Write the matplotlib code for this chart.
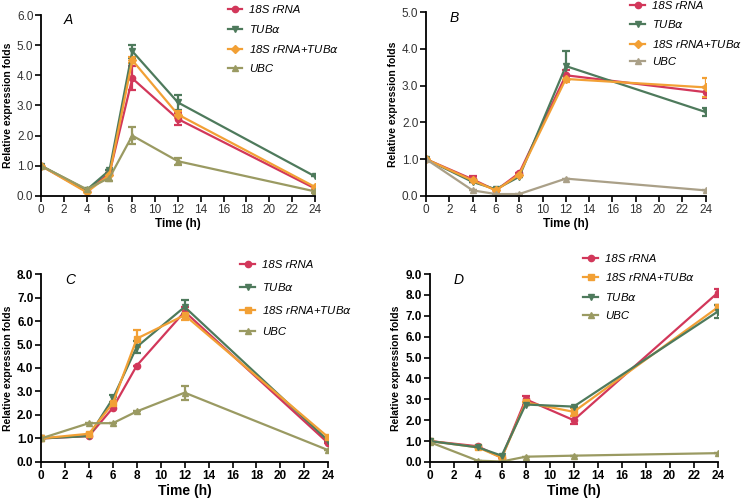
import matplotlib
matplotlib.use("Agg")
import matplotlib.pyplot as plt
from matplotlib.lines import Line2D
import numpy as np

plt.rcParams['font.family'] = ['Liberation Sans', 'DejaVu Sans']

horas = [0, 4, 6, 8, 12, 24]

# panel A
a_18s = [1.0, 0.15, 0.75, 3.9, 2.55, 0.25]
a_18s_err = [0, 0, 0, 0.4, 0.2, 0.05]
a_tub = [1.0, 0.2, 0.85, 4.8, 3.1, 0.65]
a_tub_err = [0, 0, 0, 0.22, 0.25, 0]
a_mix = [1.0, 0.12, 0.7, 4.5, 2.7, 0.3]
a_mix_err = [0, 0, 0, 0.1, 0.1, 0]
a_ubc = [1.0, 0.22, 0.6, 2.0, 1.15, 0.15]
a_ubc_err = [0, 0, 0.1, 0.28, 0.12, 0.05]

# panel B
b_18s = [1.0, 0.45, 0.15, 0.62, 3.28, 2.82]
b_18s_err = [0, 0.08, 0, 0, 0.15, 0.15]
b_tub = [1.0, 0.38, 0.18, 0.52, 3.53, 2.28]
b_tub_err = [0, 0, 0, 0, 0.4, 0.1]
b_mix = [1.0, 0.42, 0.15, 0.58, 3.18, 2.95]
b_mix_err = [0, 0, 0, 0, 0.08, 0.25]
b_ubc = [1.0, 0.15, 0.05, 0.05, 0.47, 0.15]
b_ubc_err = [0, 0, 0, 0, 0, 0]

# panel C
c_18s = [1.0, 1.1, 2.3, 4.1, 6.4, 0.8]
c_18s_err = [0, 0, 0, 0, 0.2, 0]
c_tub = [1.0, 1.1, 2.7, 4.9, 6.6, 0.9]
c_tub_err = [0, 0, 0.15, 0.25, 0.3, 0]
c_mix = [1.0, 1.2, 2.5, 5.25, 6.25, 1.05]
c_mix_err = [0.1, 0, 0, 0.35, 0.2, 0]
c_ubc = [1.0, 1.65, 1.65, 2.15, 2.95, 0.5]
c_ubc_err = [0, 0, 0, 0, 0.3, 0]

# panel D
d_18s = [1.0, 0.75, 0.2, 3.0, 2.0, 8.1]
d_18s_err = [0, 0, 0, 0.15, 0.2, 0.2]
d_mix = [1.0, 0.7, 0.2, 2.85, 2.4, 7.4]
d_mix_err = [0, 0, 0, 0, 0.2, 0.1]
d_tub = [1.0, 0.7, 0.3, 2.75, 2.65, 7.2]
d_tub_err = [0, 0, 0, 0, 0, 0.3]
d_ubc = [0.95, 0.06, 0.02, 0.25, 0.3, 0.42]
d_ubc_err = [0, 0, 0, 0, 0, 0]

rojo = '#d2375a'
verde = '#4e7a5c'
naranja = '#f2a035'
oliva = '#9a9a62'

lbl_18s = '18S rRNA'
lbl_tub = r'TUB$\alpha$'
lbl_mix = r'18S rRNA+TUB$\alpha$'
lbl_ubc = 'UBC'

fig = plt.figure(figsize=(7.46, 5.01), dpi=100)

paneles = [
    dict(pos=[0.055, 0.609, 0.367, 0.361], letra='A', ymax=6, negrita=False,
         series=[(a_18s, a_18s_err, rojo, 'o', lbl_18s),
                 (a_tub, a_tub_err, verde, 'v', lbl_tub),
                 (a_mix, a_mix_err, naranja, 'D', lbl_mix),
                 (a_ubc, a_ubc_err, oliva, '^', lbl_ubc)],
         leg=(0.305, 0.99), esp=0.72),
    dict(pos=[0.571, 0.609, 0.375, 0.367], letra='B', ymax=5, negrita=False,
         series=[(b_18s, b_18s_err, rojo, 'o', lbl_18s),
                 (b_tub, b_tub_err, verde, 'v', lbl_tub),
                 (b_mix, b_mix_err, naranja, 'D', lbl_mix),
                 (b_ubc, b_ubc_err, '#aaa088', '^', lbl_ubc)],
         leg=(0.845, 0.999), esp=0.66),
    dict(pos=[0.055, 0.078, 0.385, 0.375], letra='C', ymax=8, negrita=True,
         series=[(c_18s, c_18s_err, rojo, 'o', lbl_18s),
                 (c_tub, c_tub_err, verde, 'v', lbl_tub),
                 (c_mix, c_mix_err, naranja, 's', lbl_mix),
                 (c_ubc, c_ubc_err, oliva, '^', lbl_ubc)],
         leg=(0.322, 0.481), esp=0.96),
    dict(pos=[0.576, 0.078, 0.386, 0.375], letra='D', ymax=9, negrita=True,
         series=[(d_18s, d_18s_err, rojo, 'o', lbl_18s),
                 (d_mix, d_mix_err, naranja, 's', lbl_mix),
                 (d_tub, d_tub_err, verde, 'v', lbl_tub),
                 (d_ubc, d_ubc_err, oliva, '^', lbl_ubc)],
         leg=(0.782, 0.494), esp=0.68),
]

for p in paneles:
    ax = fig.add_axes(p['pos'])
    manejadores = []
    for vals, err, color, marca, nombre in p['series']:
        ax.errorbar(horas, vals, yerr=err, color=color, marker=marca,
                    markersize=4.5, linewidth=1.6, elinewidth=1.6,
                    capsize=3, capthick=1.6)
        manejadores.append(Line2D([], [], color=color, marker=marca,
                                  markersize=4.5, linewidth=1.6, label=nombre))

    ax.set_xlim(0, 24)
    ax.set_ylim(0, p['ymax'])
    ax.set_xticks(np.arange(0, 25, 2))
    ax.set_yticks(np.arange(0, p['ymax'] + 0.1, 1))
    ax.set_yticklabels([f'{v:.1f}' for v in np.arange(0, p['ymax'] + 0.1, 1)])
    ax.spines['top'].set_visible(False)
    ax.spines['right'].set_visible(False)
    ax.spines['left'].set_linewidth(1.3)
    ax.spines['bottom'].set_linewidth(1.3)
    ax.tick_params(width=1.2, length=4, pad=1.5)

    peso = 'bold' if p['negrita'] else 'normal'
    tcolor = 'black' if p['negrita'] else '#333333'
    for t in ax.get_xticklabels() + ax.get_yticklabels():
        t.set_fontsize(8.5)
        t.set_fontweight(peso)
        t.set_color(tcolor)

    ax.set_xlabel('Time (h)', fontsize=10 if p['negrita'] else 8.5,
                  fontweight='bold', labelpad=2)
    ax.set_ylabel('Relative expression folds', fontsize=7.5,
                  fontweight='bold', labelpad=3)
    ax.text(0.1, 0.97, p['letra'], transform=ax.transAxes, fontsize=10,
            fontstyle='italic', va='center', ha='center')

    ax.legend(handles=manejadores, loc='upper left', bbox_to_anchor=p['leg'],
              bbox_transform=fig.transFigure, frameon=False,
              prop={'style': 'italic', 'size': 8.2},
              handlelength=1.3, handletextpad=0.6, labelspacing=p['esp'],
              borderpad=0, borderaxespad=0)

fig.savefig('out.png', dpi=100)
